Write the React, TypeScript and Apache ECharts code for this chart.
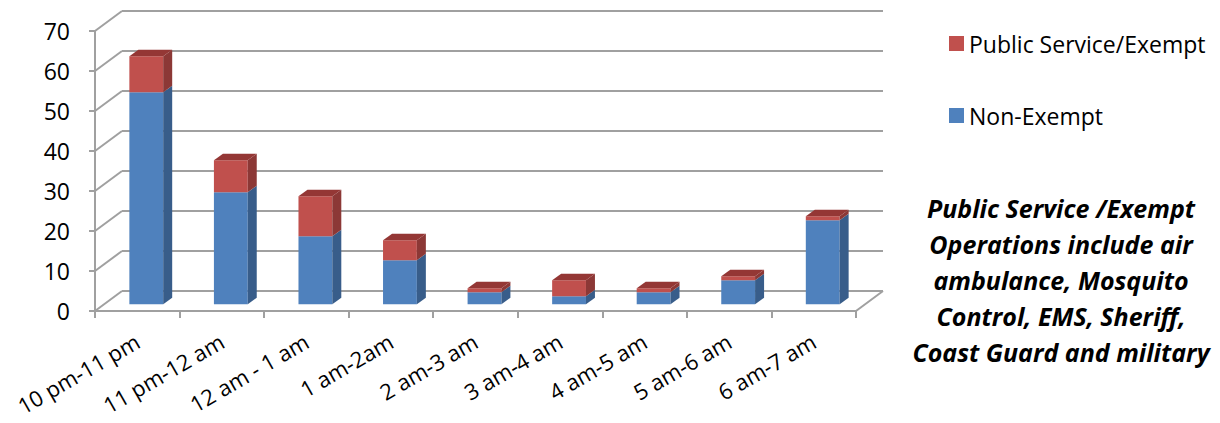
import React, { useEffect, useRef } from "react";
import * as echarts from "echarts";

const categories = [
  "10 pm-11 pm",
  "11 pm-12 am",
  "12 am - 1 am",
  "1 am-2am",
  "2 am-3 am",
  "3 am-4 am",
  "4 am-5 am",
  "5 am-6 am",
  "6 am-7 am",
];
const nonExempt = [53, 28, 17, 11, 3, 2, 3, 6, 21];
const publicService = [9, 8, 10, 5, 1, 4, 1, 1, 1];
const yTickValues = [0, 10, 20, 30, 40, 50, 60, 70];

const FONT = "'Open Sans', Lato, sans-serif";
const GRID_COLOR = "#a0a0a0";
const DX = 27;
const DY = -20;

export default function App() {
  const ref = useRef<HTMLDivElement>(null);
  useEffect(() => {
    if (!ref.current) return;
    const chart = echarts.init(ref.current, null, { renderer: "svg" });

    const makeBar = (front: string, side: string, top: string) =>
      (params: any, api: any) => {
        const i = api.value(0);
        const lo = api.value(1);
        const hi = api.value(2);
        const cap = api.value(3);
        const p0 = api.coord([i, lo]);
        const p1 = api.coord([i, hi]);
        const bw = api.size([1, 0])[0] * 0.4;
        const ox = DX / 3;
        const oy = DY / 3;
        const dx = DX / 3;
        const dy = DY / 3;
        const fx = p0[0] + ox - bw / 2;
        const yb = p0[1] + oy;
        const yt = p1[1] + oy;
        const children: any[] = [
          {
            type: "rect",
            shape: { x: fx, y: yt, width: bw, height: yb - yt },
            style: { fill: front },
          },
          {
            type: "polygon",
            shape: {
              points: [
                [fx + bw, yb],
                [fx + bw + dx, yb + dy],
                [fx + bw + dx, yt + dy],
                [fx + bw, yt],
              ],
            },
            style: { fill: side },
          },
        ];
        if (cap) {
          children.push({
            type: "polygon",
            shape: {
              points: [
                [fx, yt],
                [fx + bw, yt],
                [fx + bw + dx, yt + dy],
                [fx + dx, yt + dy],
              ],
            },
            style: { fill: top },
          });
        }
        return { type: "group", children };
      };

    const blueData = categories.map((_, i) => [
      i,
      0,
      nonExempt[i],
      publicService[i] > 0 ? 0 : 1,
    ]);
    const redData = categories.map((_, i) => [
      i,
      nonExempt[i],
      nonExempt[i] + publicService[i],
      1,
    ]);

    const option: any = {
      animation: false,
      backgroundColor: "#ffffff",
      grid: [
        { left: 95, top: 31, width: 761, height: 280, outerBoundsMode: "none", containLabel: false },
        { left: 95 + DX, top: 31 + DY, width: 761, height: 280, outerBoundsMode: "none", containLabel: false },
      ],
      xAxis: [
        {
          type: "category",
          gridIndex: 0,
          data: categories,
          axisLine: { show: true, lineStyle: { color: GRID_COLOR, width: 2 } },
          axisTick: {
            show: true,
            length: 7,
            interval: 0,
            lineStyle: { color: GRID_COLOR, width: 2 },
          },
          axisLabel: {
            interval: 0,
            rotate: 30,
            fontSize: 22,
            fontFamily: FONT,
            color: "#000",
            margin: 28,
          },
          splitLine: { show: false },
        },
        {
          type: "category",
          gridIndex: 1,
          data: categories,
          show: false,
        },
      ],
      yAxis: [
        {
          type: "value",
          gridIndex: 0,
          min: 0,
          max: 70,
          interval: 10,
          axisLine: { show: true, lineStyle: { color: GRID_COLOR, width: 2 } },
          axisTick: { show: true, length: 6, lineStyle: { color: GRID_COLOR, width: 2 } },
          axisLabel: {
            fontSize: 23,
            fontFamily: FONT,
            color: "#000",
            margin: 25,
          },
          splitLine: { show: false },
        },
        {
          type: "value",
          gridIndex: 1,
          min: 0,
          max: 70,
          interval: 10,
          axisLine: { show: false },
          axisTick: { show: false },
          axisLabel: { show: false },
          splitLine: { show: true, lineStyle: { color: GRID_COLOR, width: 2 } },
        },
      ],
      legend: {
        orient: "vertical",
        left: 944,
        top: 27,
        itemWidth: 15,
        itemHeight: 15,
        itemGap: 49,
        icon: "rect",
        data: ["Public Service/Exempt", "Non-Exempt"],
        textStyle: { fontSize: 23, fontFamily: FONT, color: "#000" },
        selectedMode: false,
      },
      series: [
        {
          type: "custom",
          name: "walls",
          xAxisIndex: 0,
          yAxisIndex: 0,
          silent: true,
          data: yTickValues.map((v) => [0, v]),
          encode: { x: 0, y: 1 },
          renderItem: (params: any, api: any) => {
            const v = api.value(1);
            const y = api.coord([0, v])[1];
            const cs = params.coordSys;
            const x0 = cs.x;
            const children: any[] = [
              {
                type: "line",
                shape: { x1: x0, y1: y, x2: x0 + DX, y2: y + DY },
                style: { stroke: GRID_COLOR, lineWidth: 2 },
              },
            ];
            if (v === 0) {
              children.push({
                type: "line",
                shape: {
                  x1: x0 + cs.width,
                  y1: y,
                  x2: x0 + cs.width + DX,
                  y2: y + DY,
                },
                style: { stroke: GRID_COLOR, lineWidth: 2 },
              });
            }
            return { type: "group", children };
          },
        },
        {
          type: "custom",
          name: "Non-Exempt",
          xAxisIndex: 0,
          yAxisIndex: 0,
          itemStyle: { color: "#4F81BD" },
          data: blueData,
          encode: { x: 0, y: 2 },
          renderItem: makeBar("#4F81BD", "#385D8A", "#5B8CC6"),
        },
        {
          type: "custom",
          name: "Public Service/Exempt",
          xAxisIndex: 0,
          yAxisIndex: 0,
          itemStyle: { color: "#C0504D" },
          data: redData,
          encode: { x: 0, y: 2 },
          renderItem: makeBar("#C0504D", "#8C3836", "#943735"),
        },
      ],
      graphic: [
        {
          type: "text",
          x: 1061,
          y: 190,
          style: {
            text:
              "Public Service /Exempt\nOperations include air\nambulance, Mosquito\nControl, EMS, Sheriff,\nCoast Guard and military",
            fontFamily: FONT,
            fontSize: 25,
            fontWeight: "bold",
            fontStyle: "italic",
            lineHeight: 36,
            textAlign: "center",
            textVerticalAlign: "top",
            fill: "#000",
          },
        },
      ],
    };
    chart.setOption(option);
    return () => chart.dispose();
  }, []);
  return (
    <div
      ref={ref}
      style={{ position: "absolute", left: 0, top: 0, width: 1220, height: 423 }}
    />
  );
}
